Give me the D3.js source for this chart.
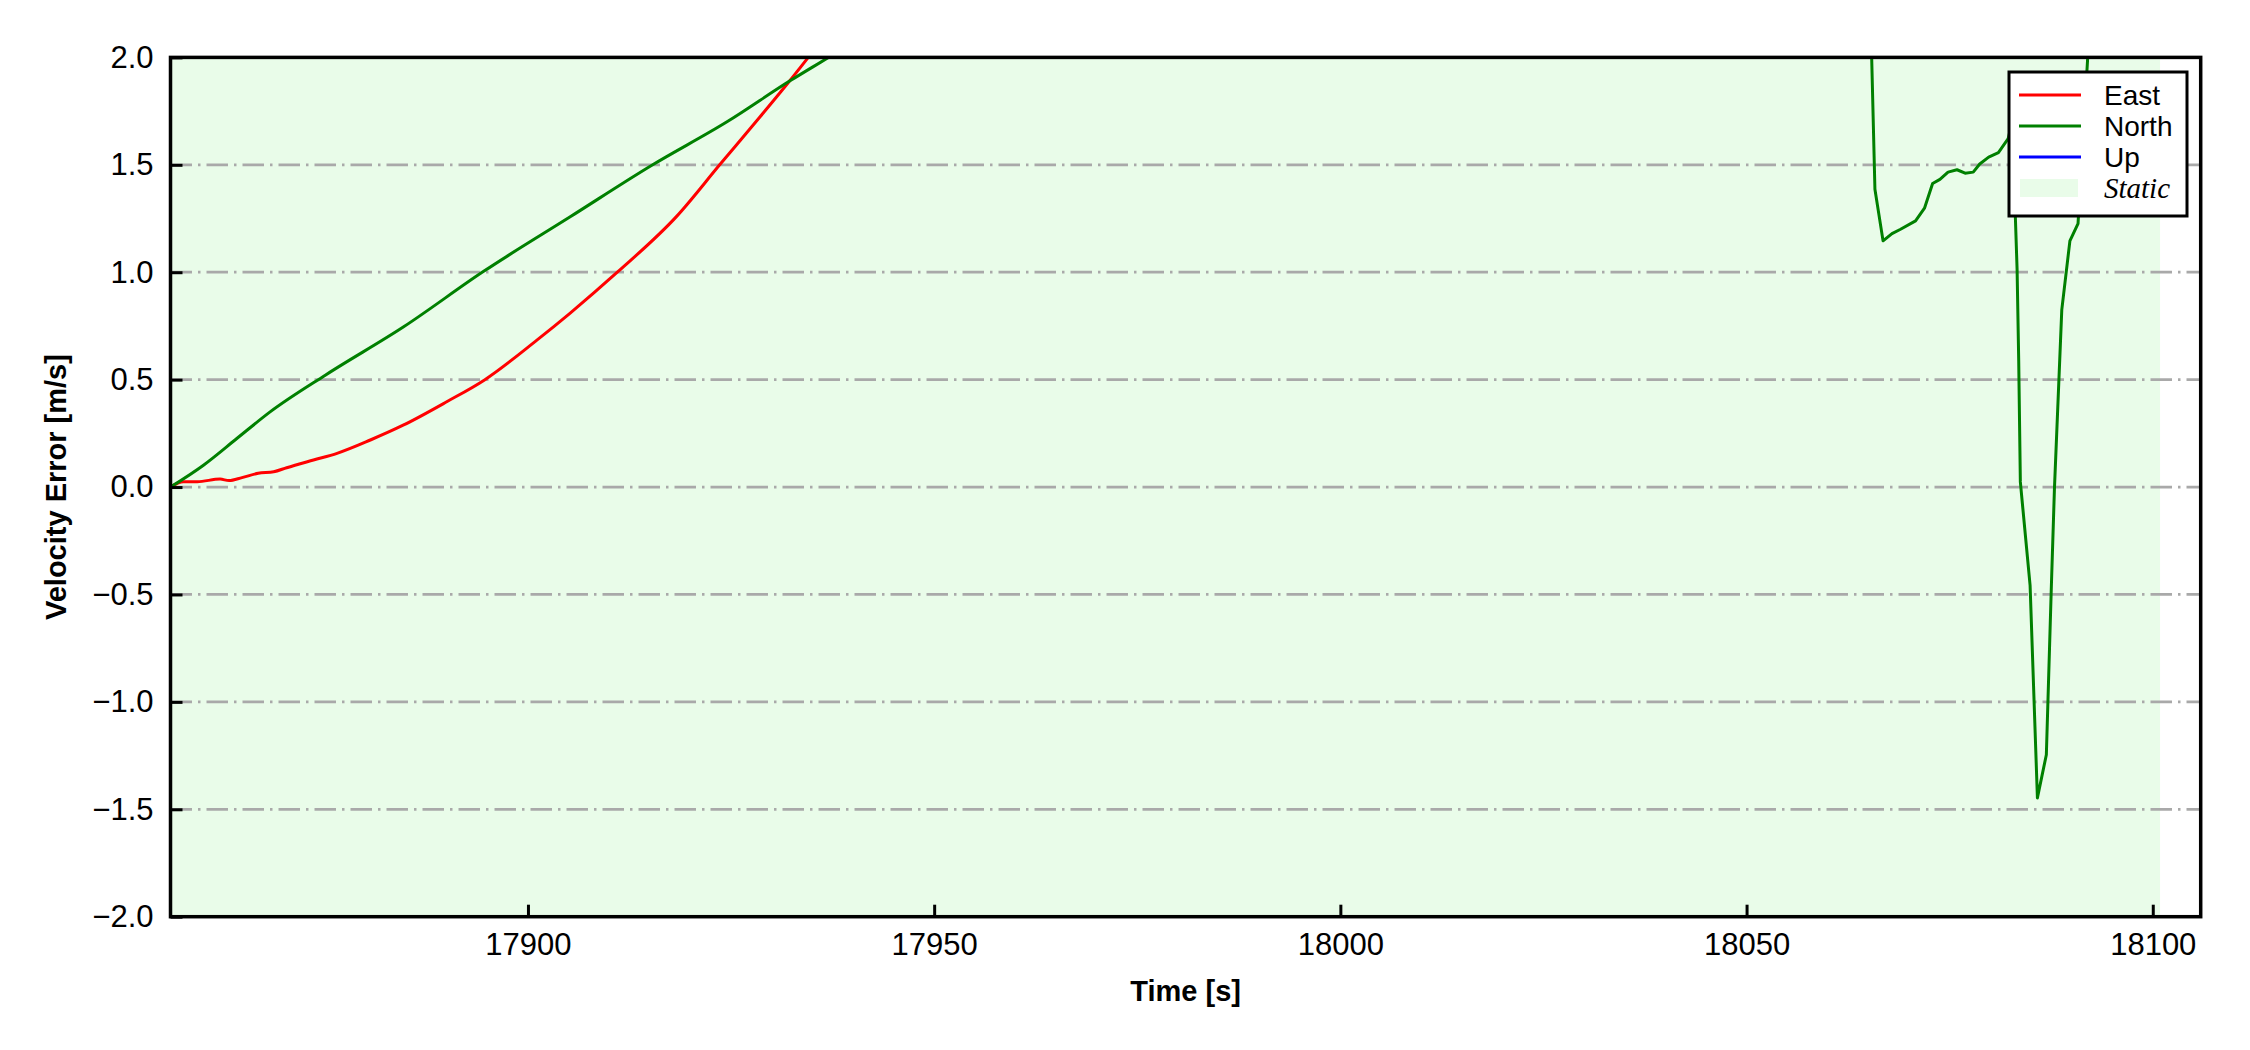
<!DOCTYPE html>
<html>
<head>
<meta charset="utf-8">
<title>Velocity Error</title>
<script src="https://cdn.jsdelivr.net/npm/d3@7"></script>
<style>
  body { margin: 0; background: #fff; }
  svg { display: block; font-family: "Liberation Sans", Arial, sans-serif; }
</style>
</head>
<body>
<svg id="chart" width="2250" height="1050"></svg>
<script>
// East velocity error
var eastTime = [17856.0, 17857.6, 17859.3, 17862.1, 17863.2, 17864.8, 17866.8, 17868.7, 17870.3, 17873.6,
  17876.5, 17880.6, 17884.7, 17890.0, 17894.7, 17901.1, 17905.2, 17911.0, 17918.3, 17923.6,
  17928.6, 17932.3, 17934.5, 17940.0];
var eastVel = [0.0, 0.025, 0.025, 0.037, 0.03, 0.044, 0.064, 0.071, 0.09, 0.126,
  0.157, 0.219, 0.289, 0.397, 0.5, 0.684, 0.81, 1.0, 1.26, 1.5,
  1.725, 1.895, 2.0, 2.3];

// North velocity error (goes off the top between ~17937 and ~18066)
var northTime = [17856.0, 17860.1, 17864.2, 17868.3, 17875.1, 17884.7, 17894.5, 17905.2, 17915.3, 17924.5,
  17932.3, 17937.0, 17940.0, 17950.0, 18064.8, 18065.8, 18066.8, 18067.9, 18068.9, 18070.8,
  18071.9, 18072.9, 18073.8, 18074.8, 18075.9, 18076.9, 18077.9, 18078.7, 18079.8, 18081.0,
  18082.2, 18082.7, 18083.3, 18083.5, 18083.7, 18084.9, 18085.8, 18086.9, 18087.5, 18087.9,
  18088.8, 18089.8, 18090.8, 18092.3];
var northVel = [0.0, 0.103, 0.227, 0.351, 0.522, 0.746, 1.003, 1.258, 1.499, 1.70,
  1.892, 2.0, 2.07, 2.3, 2.92, 1.386, 1.146, 1.18, 1.199, 1.239,
  1.298, 1.413, 1.432, 1.466, 1.477, 1.461, 1.466, 1.504, 1.536, 1.557,
  1.622, 1.70, 1.012, 0.584, 0.024, -0.458, -1.447, -1.246, -0.484, -0.004,
  0.825, 1.146, 1.226, 2.2];

// Up velocity error: nothing of it shows inside the plotted range
var upTime = [];
var upVel = [];

// static interval and axes
var staticSpan = [17856.0, 18100.9];
var xDomain = [17856.0, 18105.9];
var yDomain = [-2, 2];
var xTicks = [17900, 17950, 18000, 18050, 18100];
var yTicks = [-2.0, -1.5, -1.0, -0.5, 0.0, 0.5, 1.0, 1.5, 2.0];

var seriesNames = ['East', 'North', 'Up'];
var seriesColors = ['#ff0000', '#008000', '#0000ff'];
var staticLabel = 'Static';
var staticColor = '#e9fce9';

var margin = {left: 170.5, right: 49.3, top: 57.4, bottom: 133.3};
var W = 2250, H = 1050;
var w = W - margin.left - margin.right;
var h = H - margin.top - margin.bottom;

var svg = d3.select('#chart');
var g = svg.append('g').attr('transform', 'translate(' + margin.left + ',' + margin.top + ')');

var x = d3.scaleLinear().domain(xDomain).range([0, w]);
var y = d3.scaleLinear().domain(yDomain).range([h, 0]);

// clip for data
svg.append('defs').append('clipPath').attr('id', 'plot-clip')
  .append('rect').attr('width', w).attr('height', h);

// static shading
g.append('rect')
  .attr('x', x(staticSpan[0]))
  .attr('y', 0)
  .attr('width', x(staticSpan[1]) - x(staticSpan[0]))
  .attr('height', h)
  .attr('fill', staticColor);

// horizontal dash-dot grid
g.append('g').selectAll('line').data(yTicks).enter()
  .append('line')
  .attr('x1', 0).attr('x2', w)
  .attr('y1', function(d) { return y(d); })
  .attr('y2', function(d) { return y(d); })
  .attr('stroke', '#a9a9a9')
  .attr('stroke-width', 2.7)
  .attr('stroke-dasharray', '21.5,6,2.5,6');

// data lines
var series = [
  {name: seriesNames[0], color: seriesColors[0], t: eastTime, v: eastVel},
  {name: seriesNames[1], color: seriesColors[1], t: northTime, v: northVel},
  {name: seriesNames[2], color: seriesColors[2], t: upTime, v: upVel}
];

var lines = g.append('g').attr('clip-path', 'url(#plot-clip)');
var smoothLine = d3.line()
  .x(function(d) { return x(d[0]); })
  .y(function(d) { return y(d[1]); })
  .curve(d3.curveMonotoneX);
var sharpLine = d3.line()
  .x(function(d) { return x(d[0]); })
  .y(function(d) { return y(d[1]); });

series.forEach(function(s) {
  if (!s.t.length) return;
  var pts = s.t.map(function(t, i) { return [t, s.v[i]]; });
  // smooth drift part, sharp linear part after it comes back into view
  var early = pts.filter(function(d) { return d[0] < 18000; });
  var late = pts.filter(function(d) { return d[0] >= 18000; });
  if (early.length) {
    lines.append('path').datum(early).attr('d', smoothLine)
      .attr('fill', 'none').attr('stroke', s.color).attr('stroke-width', 3);
  }
  if (late.length) {
    lines.append('path').datum(late).attr('d', sharpLine)
      .attr('fill', 'none').attr('stroke', s.color).attr('stroke-width', 3)
      .attr('stroke-linejoin', 'round');
  }
});

// axes with inward ticks
var xAxis = g.append('g').attr('transform', 'translate(0,' + h + ')')
  .call(d3.axisBottom(x).tickValues(xTicks).tickFormat(d3.format('d'))
    .tickSizeInner(-12).tickSizeOuter(0).tickPadding(16));
var yAxis = g.append('g')
  .call(d3.axisLeft(y).tickValues(yTicks).tickFormat(d3.format('.1f'))
    .tickSizeInner(-12).tickSizeOuter(0).tickPadding(17));

[xAxis, yAxis].forEach(function(a) {
  a.select('.domain').remove();
  a.selectAll('line').attr('stroke', '#000').attr('stroke-width', 3);
  a.selectAll('text').attr('fill', '#000')
    .style('font-family', '"Liberation Sans", Arial, sans-serif')
    .style('font-size', '31px');
});

// frame
g.append('rect')
  .attr('width', w).attr('height', h)
  .attr('fill', 'none')
  .attr('stroke', '#000')
  .attr('stroke-width', 3.5);

// axis labels
svg.append('text')
  .attr('x', margin.left + w / 2)
  .attr('y', 1001)
  .attr('text-anchor', 'middle')
  .style('font-size', '29px')
  .style('font-weight', 'bold')
  .text('Time [s]');

svg.append('text')
  .attr('transform', 'translate(66,' + (margin.top + h / 2) + ') rotate(-90)')
  .attr('text-anchor', 'middle')
  .style('font-size', '29px')
  .style('font-weight', 'bold')
  .text('Velocity Error [m/s]');

// legend
var legend = svg.append('g').attr('transform', 'translate(2009,72)');
legend.append('rect')
  .attr('width', 178).attr('height', 144)
  .attr('fill', '#fff')
  .attr('stroke', '#000')
  .attr('stroke-width', 3);

var legendItems = series.map(function(s) { return {label: s.name, color: s.color, kind: 'line'}; });
legendItems.push({label: staticLabel, color: staticColor, kind: 'patch'});

var rows = legend.selectAll('g.item').data(legendItems).enter()
  .append('g')
  .attr('class', 'item')
  .attr('transform', function(d, i) { return 'translate(0,' + (23 + i * 31) + ')'; });

rows.filter(function(d) { return d.kind === 'line'; })
  .append('line')
  .attr('x1', 10).attr('x2', 72)
  .attr('stroke', function(d) { return d.color; })
  .attr('stroke-width', 3);

rows.filter(function(d) { return d.kind === 'patch'; })
  .append('rect')
  .attr('x', 11).attr('y', -9)
  .attr('width', 58).attr('height', 18)
  .attr('fill', function(d) { return d.color; });

rows.append('text')
  .attr('x', 95)
  .attr('y', 10)
  .style('font-size', function(d) { return d.kind === 'patch' ? '29px' : '28px'; })
  .style('font-family', function(d) {
    return d.kind === 'patch' ? '"Liberation Serif", "Times New Roman", serif' : '"Liberation Sans", Arial, sans-serif';
  })
  .style('font-style', function(d) { return d.kind === 'patch' ? 'italic' : 'normal'; })
  .text(function(d) { return d.label; });
</script>
</body>
</html>
